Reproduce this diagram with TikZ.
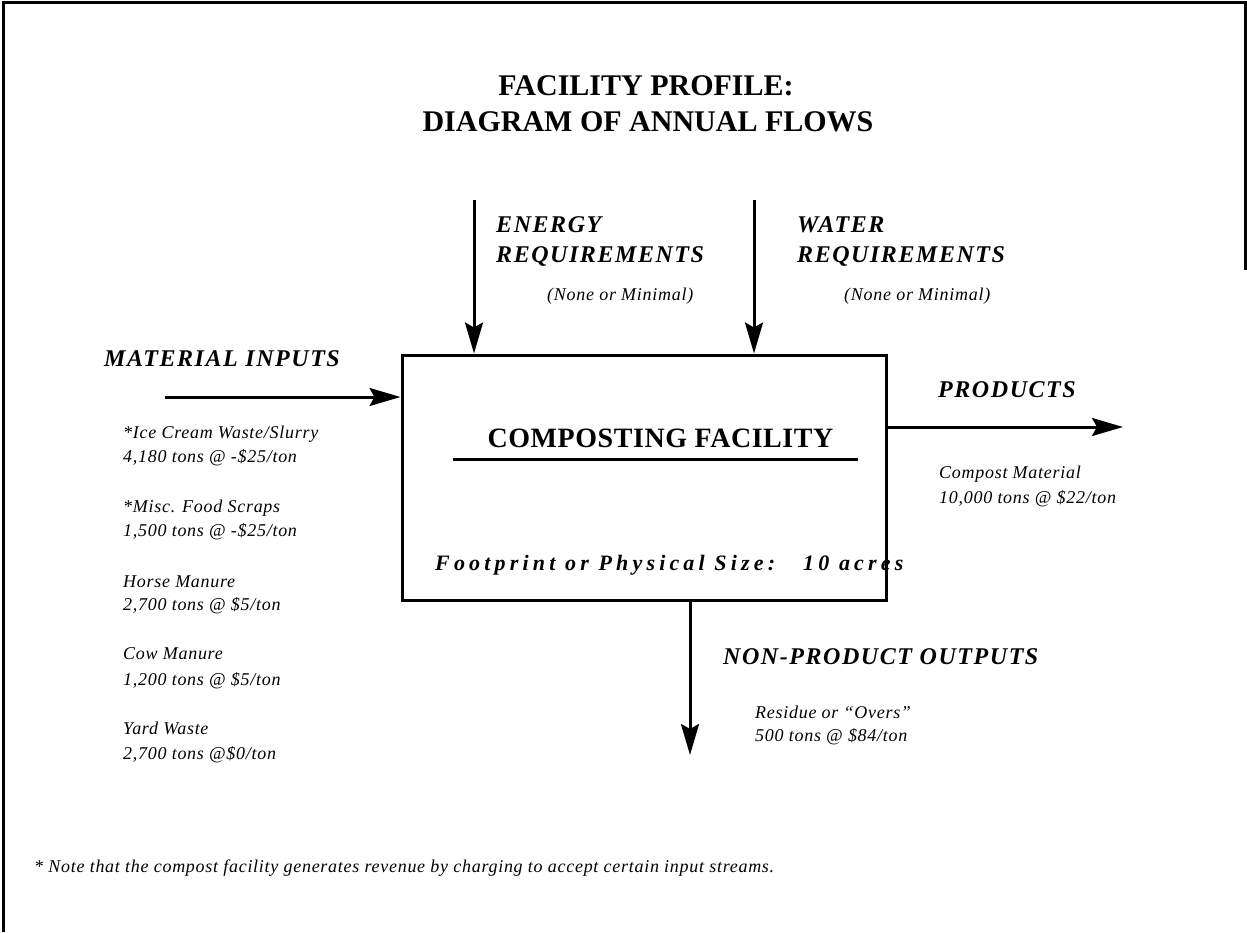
\documentclass[tikz,border=0pt]{standalone}
\usepackage{fontspec}
\setmainfont{Liberation Serif}
\newfontfamily\hdfont[LetterSpace=6.5]{Liberation Serif}
\newfontfamily\fpfont[LetterSpace=19]{Liberation Serif}
\newfontfamily\dtfont[LetterSpace=4]{Liberation Serif}
\newfontfamily\bxfont[LetterSpace=2]{Liberation Serif}
\usetikzlibrary{arrows.meta}
\begin{document}
\begin{tikzpicture}[x=1pt,y=-1pt,
  hd/.style={anchor=base west, inner sep=0pt, font=\hdfont\fontsize{24}{28}\selectfont\bfseries\itshape},
  dt/.style={anchor=base west, inner sep=0pt, font=\dtfont\fontsize{18}{21}\selectfont\itshape},
  ttl/.style={anchor=base, inner sep=0pt, font=\fontsize{30}{36}\selectfont\bfseries},
  flow/.style={line width=3pt, -{Stealth[length=31pt,width=18pt,inset=5pt]}},
  frame/.style={line width=3pt}
  ]
\useasboundingbox (0,0) rectangle (1247,932);
\draw[frame] (3,932) -- (3,2) -- (1245,2) -- (1245,270);

% title
\node[ttl] (t1) at (646,95) {FACILITY PROFILE:};
\node[ttl] (t2) at (648,131) {DIAGRAM OF ANNUAL FLOWS};

% facility box
\node[draw, line width=3pt, minimum width=484pt, minimum height=245pt, inner sep=0pt] (fac) at (644,477.5) {};
\node[anchor=base, inner sep=0pt, font=\bxfont\fontsize{28}{34}\selectfont\bfseries] (ftitle) at (660.5,447) {COMPOSTING FACILITY};
\draw[line width=3pt] (453,459) -- (858,459);
\node[anchor=base west, inner sep=0pt, font=\fpfont\fontsize{22}{26}\selectfont\bfseries\itshape] (fp) at (435,570) {Footprint or Physical Size:\hspace{28pt}10 acres};

% energy / water
\coordinate (enS) at (474,200);
\draw[flow] (enS) -- (enS |- fac.north);
\node[hd] (en1) at (496,232) {ENERGY};
\node[hd] (en2) at (496,262) {REQUIREMENTS};
\node[dt] (en3) at (547,300) {(None or Minimal)};

\coordinate (waS) at (754,200);
\draw[flow] (waS) -- (waS |- fac.north);
\node[hd] (wa1) at (797,232) {WATER};
\node[hd] (wa2) at (797,262) {REQUIREMENTS};
\node[dt] (wa3) at (844,300) {(None or Minimal)};

% material inputs
\node[hd] (mi) at (104,366) {MATERIAL INPUTS};
\coordinate (matS) at (165,397);
\draw[flow] (matS) -- (matS -| fac.west);
\node[dt] (m1a) at (123,438) {*Ice Cream Waste/Slurry};
\node[dt] (m1b) at (123,462) {4,180 tons @ -\$25/ton};
\node[dt] (m2a) at (123,512) {*Misc. Food Scraps};
\node[dt] (m2b) at (123,536) {1,500 tons @ -\$25/ton};
\node[dt] (m3a) at (123,587) {Horse Manure};
\node[dt] (m3b) at (123,610) {2,700 tons @ \$5/ton};
\node[dt] (m4a) at (123,659) {Cow Manure};
\node[dt] (m4b) at (123,685) {1,200 tons @ \$5/ton};
\node[dt] (m5a) at (123,734) {Yard Waste};
\node[dt] (m5b) at (123,759) {2,700 tons @\$0/ton};

% products
\node[hd] (pr) at (938,397) {PRODUCTS};
\coordinate (prE) at (1123,427);
\draw[flow] (prE -| fac.east) -- (prE);
\node[dt] (p1) at (939,478) {Compost Material};
\node[dt] (p2) at (939,503) {10,000 tons @ \$22/ton};

% non-product outputs
\coordinate (npE) at (690,755);
\draw[flow] (npE |- fac.south) -- (npE);
\node[hd] (np) at (723,664) {NON-PRODUCT OUTPUTS};
\node[dt] (n1) at (755,718) {Residue or “Overs”};
\node[dt] (n2) at (755,741) {500 tons @ \$84/ton};

% footnote
\node[anchor=base west, inner sep=0pt, font=\dtfont\fontsize{18}{21}\selectfont\itshape] (note) at (34,872) {* Note that the compost facility generates revenue by charging to accept certain input streams.};
\end{tikzpicture}
\end{document}
